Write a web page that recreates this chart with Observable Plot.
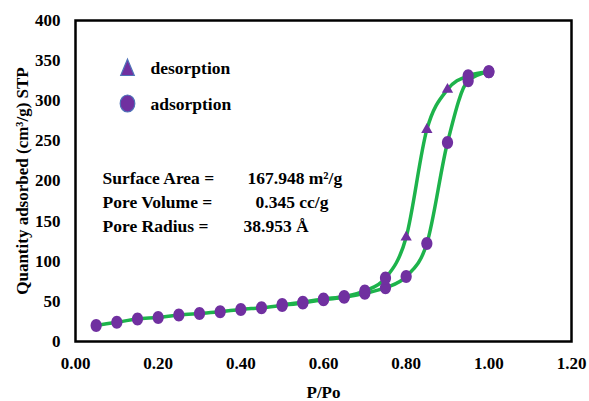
<!DOCTYPE html>
<html>
<head>
<meta charset="utf-8">
<script src="https://cdn.jsdelivr.net/npm/d3@7"></script>
<script src="https://cdn.jsdelivr.net/npm/@observablehq/plot@0.6"></script>
<style>
  html, body { margin: 0; padding: 0; background: #fff; }
</style>
</head>
<body>
<div id="chart"></div>
<script>
// ---- data ----
const adsP = [0.05, 0.10, 0.15, 0.20, 0.25, 0.30, 0.35, 0.40, 0.45, 0.50, 0.55, 0.60, 0.65, 0.70, 0.75, 0.80, 0.85, 0.90, 0.95, 1.00];
const adsQ = [20, 24, 28, 30, 33, 35, 37, 40, 42, 45, 48, 52, 55, 60, 67, 81, 122, 248, 325, 336];
const desP = [1.00, 0.95, 0.90, 0.85, 0.80, 0.75, 0.70, 0.65, 0.60, 0.55, 0.50];
const desQ = [336, 331, 314, 264, 130, 79, 63, 56, 53, 49, 46];
const desSymbol = ["circle", "circle", "triangle", "triangle", "triangle", "circle", "circle", "circle", "circle", "circle", "circle"];
const xTicks = [0, 0.2, 0.4, 0.6, 0.8, 1.0, 1.2];
const yTicks = [0, 50, 100, 150, 200, 250, 300, 350, 400];
const legendLabels = ["desorption", "adsorption"];
const infoLabels = ["Surface Area =", "Pore Volume =", "Pore Radius ="];
const infoValues = ["167.948 m²/g", "0.345 cc/g", "38.953 Å"];

const ads = adsP.map((p, i) => ({p, q: adsQ[i]}));
const des = desP.map((p, i) => ({p, q: desQ[i], s: desSymbol[i]}));
const desTri = des.filter(d => d.s === "triangle");
const desCirc = des.filter(d => d.s === "circle");

const green = "#1db34b";
const purple = "#7030a0";
const edge = "#4f72b8";
const font = "'Liberation Serif', 'Times New Roman', serif";

// slightly tall ellipse symbol (markers in the reference are not perfectly round)
const ellipse = {
  draw(ctx, size) {
    const r = Math.sqrt(size / Math.PI);
    const rx = r * 0.86, ry = r, k = 0.5523;
    ctx.moveTo(rx, 0);
    ctx.bezierCurveTo(rx, ry * k, rx * k, ry, 0, ry);
    ctx.bezierCurveTo(-rx * k, ry, -rx, ry * k, -rx, 0);
    ctx.bezierCurveTo(-rx, -ry * k, -rx * k, -ry, 0, -ry);
    ctx.bezierCurveTo(rx * k, -ry, rx, -ry * k, rx, 0);
    ctx.closePath();
  }
};
// tall triangle for the legend
const tallTriangle = {
  draw(ctx, size) {
    const r = Math.sqrt(size / Math.PI);
    const w = r * 0.8, h = r * 1.1;
    ctx.moveTo(0, -h);
    ctx.lineTo(w, h * 0.75);
    ctx.lineTo(-w, h * 0.75);
    ctx.closePath();
  }
};

const legendDy = [48, 83];
const legendTextDy = [48, 84];
const infoDy = [158, 182, 206];
const valueDx = [172, 180, 168];

const textMarks = [];
legendLabels.forEach((t, i) => {
  textMarks.push(Plot.text([t], {frameAnchor: "top-left", text: d => d, dx: 75, dy: legendTextDy[i], textAnchor: "start", lineAnchor: "middle", fontSize: 17.5, fontWeight: "bold"}));
});
infoLabels.forEach((t, i) => {
  textMarks.push(Plot.text([t], {frameAnchor: "top-left", text: d => d, dx: 27, dy: infoDy[i], textAnchor: "start", lineAnchor: "middle", fontSize: 17.5, fontWeight: "bold"}));
  textMarks.push(Plot.text([infoValues[i]], {frameAnchor: "top-left", text: d => d, dx: valueDx[i], dy: infoDy[i], textAnchor: "start", lineAnchor: "middle", fontSize: 17.5, fontWeight: "bold"}));
});

const chart = Plot.plot({
  width: 589,
  height: 401,
  marginLeft: 75,
  marginRight: 18,
  marginTop: 20,
  marginBottom: 60,
  style: {fontFamily: font, fontWeight: "bold", fontSize: "17px", color: "#000", background: "#fff"},
  x: {domain: [0, 1.2]},
  y: {domain: [0, 400]},
  marks: [
    Plot.axisX({ticks: xTicks, tickFormat: d3.format(".2f"), tickSize: 0, tickPadding: 15,
      label: "P/Po", labelAnchor: "center", labelOffset: 56, labelArrow: "none",
      fontSize: 17, fontWeight: "bold"}),
    Plot.axisY({ticks: yTicks, tickFormat: d3.format("d"), tickSize: 0, tickPadding: 15,
      label: "Quantity adsorbed (cm³/g) STP", labelAnchor: "center", labelOffset: 60, labelArrow: "none",
      fontSize: 17, fontWeight: "bold"}),
    Plot.line(ads, {x: "p", y: "q", stroke: green, strokeWidth: 3.5, curve: "monotone-x"}),
    Plot.line(des, {x: "p", y: "q", stroke: green, strokeWidth: 3.5, curve: "monotone-x"}),
    Plot.dot(ads, {x: "p", y: "q", r: 6.5, fill: purple, symbol: ellipse}),
    Plot.dot(desCirc, {x: "p", y: "q", r: 6.5, fill: purple, symbol: ellipse}),
    Plot.dot(desTri, {x: "p", y: "q", r: 4.2, fill: purple, symbol: "triangle"}),
    // legend
    Plot.dot([legendLabels[0]], {frameAnchor: "top-left", dx: 52, dy: legendDy[0], symbol: tallTriangle, r: 8.5, fill: purple, stroke: edge, strokeWidth: 1.2}),
    Plot.dot([legendLabels[1]], {frameAnchor: "top-left", dx: 52, dy: legendDy[1], symbol: ellipse, r: 8.5, fill: purple, stroke: edge, strokeWidth: 1.2}),
    ...textMarks,
    Plot.frame({stroke: "#000", strokeWidth: 2.5})
  ]
});
document.getElementById("chart").appendChild(chart);
</script>
</body>
</html>
